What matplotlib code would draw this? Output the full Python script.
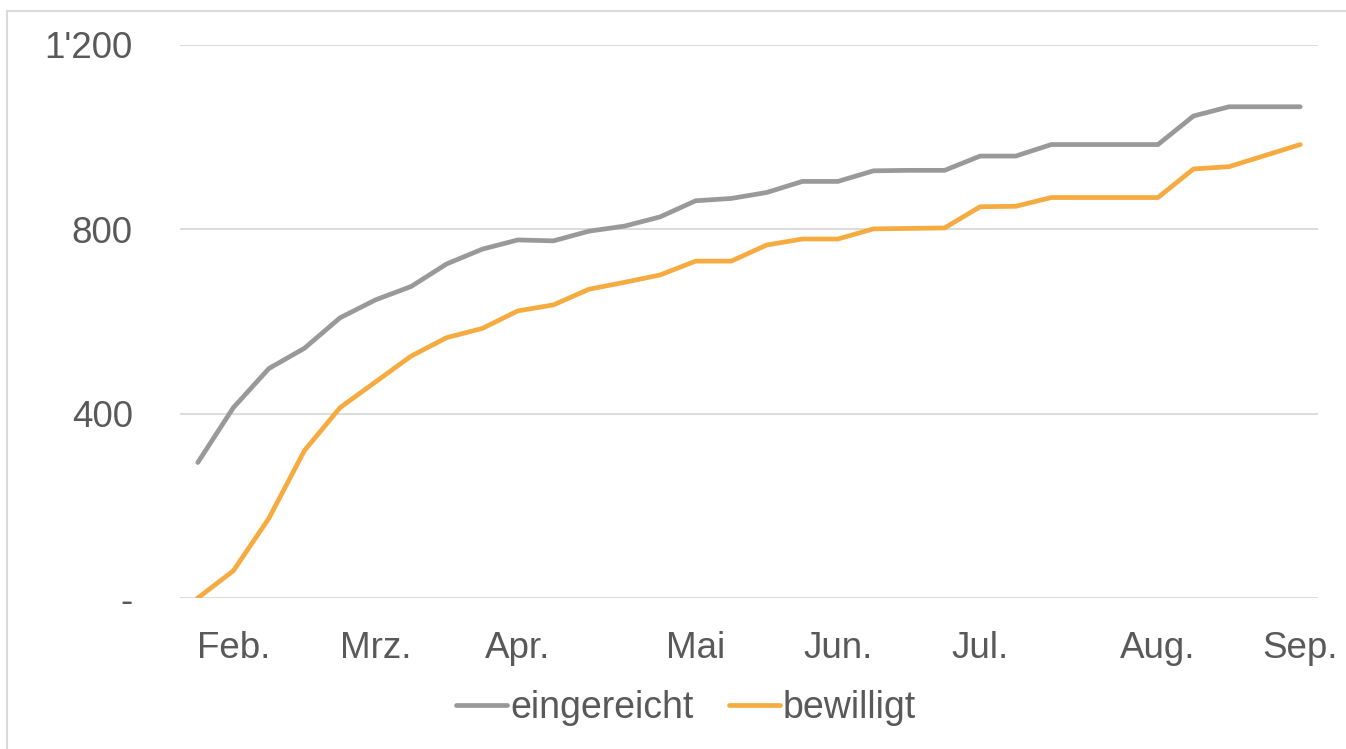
import matplotlib
matplotlib.use("Agg")
import matplotlib.pyplot as plt
from matplotlib.patches import Rectangle

eingereicht = [294, 413, 498, 542, 608, 647, 676, 725, 757, 777, 775,
               796, 807, 827, 862, 867, 880, 904, 904, 927, 928, 928,
               959, 959, 984, 984, 984, 984, 1046, 1066, 1066, 1066]
bewilligt = [0, 59, 173, 320, 413, 469, 525, 565, 585, 623, 636,
             670, 685, 701, 731, 731, 766, 779, 779, 801, 802, 803,
             849, 850, 869, 869, 869, 869, 931, 936, 960, 984]
month_pos = [1, 5, 9, 14, 18, 22, 27, 31]
month_labels = ["Feb.", "Mrz.", "Apr.", "Mai", "Jun.", "Jul.", "Aug.", "Sep."]
y_ticks = [0, 400, 800, 1200]
y_labels = ["-", "400", "800", "1'200"]

plt.rcParams['font.family'] = ['Liberation Sans', 'DejaVu Sans']
W, H = 1346, 749
fig = plt.figure(figsize=(W / 100, H / 100), dpi=100)
fig.patches.append(Rectangle((7 / W, -0.1), 1.2, 1 - 11 / H + 0.1,
                             transform=fig.transFigure, fill=False,
                             edgecolor='#d9d9d9', linewidth=1.5))

ax = fig.add_axes([180 / W, 1 - 598 / H, (1318 - 180) / W, (598 - 45) / H])
x = list(range(len(eingereicht)))
ax.plot(x, eingereicht, color='#999999', lw=3.4, solid_capstyle='round',
        solid_joinstyle='round', label='eingereicht', zorder=3)
ax.plot(x, bewilligt, color='#f6ab41', lw=3.4, solid_capstyle='round',
        solid_joinstyle='round', label='bewilligt', zorder=3)

ax.set_xlim(-0.5, len(x) - 0.5)
ax.set_ylim(0, 1200)
ax.set_yticks(y_ticks)
ax.set_yticklabels(y_labels)
ax.set_xticks(month_pos)
ax.set_xticklabels(month_labels)
ax.grid(axis='y', color='#d9d9d9', lw=1.3)
ax.set_axisbelow(True)
for s in ax.spines.values():
    s.set_visible(False)
ax.tick_params(axis='both', length=0, labelsize=26.5, labelcolor='#595959')
ax.tick_params(axis='y', pad=34)
ax.tick_params(axis='x', pad=24)

leg = fig.legend(loc='center', bbox_to_anchor=(686 / W, 1 - 708 / H), ncol=2,
                 frameon=False, fontsize=27, handlelength=1.35,
                 handletextpad=0.08, columnspacing=0.95, labelcolor='#595959')

fig.savefig("out.png", dpi=100)
